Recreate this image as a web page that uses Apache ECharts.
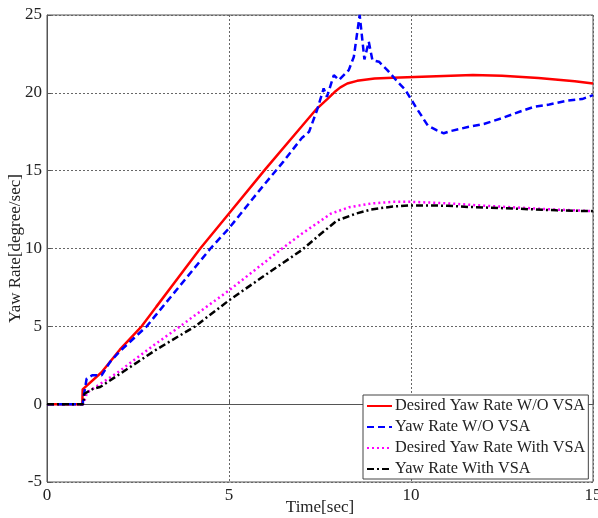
<!DOCTYPE html>
<html>
<head>
<meta charset="utf-8">
<script src="https://cdn.jsdelivr.net/npm/echarts@6/dist/echarts.min.js"></script>
<style>
  html, body { margin: 0; padding: 0; background: #fff; }
  #chart { width: 598px; height: 518px; }
</style>
</head>
<body>
<div id="chart"></div>
<script>
// 数据：时间(秒) 与 横摆角速度(度/秒)
const tRed = [0, 0.97, 0.98, 1.5, 2, 2.6, 3, 3.5, 4.21, 5, 6, 7, 7.38, 7.7, 7.9, 8.06, 8.25, 8.52, 9.0, 9.5, 10.5, 11.7, 12.5, 13.5, 14.5, 15];
const yRed = [0, 0, 0.95, 2.05, 3.5, 5.0, 6.25, 7.8, 10.0, 12.25, 15.1, 17.85, 18.9, 19.6, 20.05, 20.35, 20.6, 20.77, 20.92, 20.97, 21.05, 21.14, 21.1, 20.95, 20.75, 20.6];

const tBlue = [0, 0.98, 1.0, 1.09, 1.24, 1.5, 1.73, 2, 2.74, 3, 4, 4.49, 5, 5.86, 6.5, 7, 7.2, 7.42, 7.6, 7.69, 7.88, 8.02, 8.29, 8.43, 8.59, 8.72, 8.84, 8.94, 9.12, 9.35, 9.63, 9.85, 10.13, 10.46, 10.7, 10.9, 11.1, 11.56, 12, 12.47, 13, 13.38, 13.8, 14.3, 14.7, 15];
const yBlue = [0, 0, 0.4, 1.65, 1.85, 1.85, 2.7, 3.4, 5.0, 5.75, 8.6, 10, 11.3, 13.8, 15.6, 17.1, 17.5, 18.9, 20.28, 19.74, 21.14, 20.82, 21.46, 22.32, 25.0, 22.15, 23.28, 22.1, 22.0, 21.46, 20.71, 20.17, 19.1, 17.9, 17.6, 17.4, 17.55, 17.8, 18.0, 18.35, 18.8, 19.1, 19.25, 19.5, 19.6, 19.85];

const tMag = [0, 1.0, 1.1, 1.2, 1.92, 3, 3.66, 4, 5, 6, 6.46, 7, 7.5, 7.8, 8.3, 8.9, 9.5, 10, 11, 12, 13, 14, 15];
const yMag = [0, 0, 0.75, 0.9, 2.0, 3.9, 5.0, 5.6, 7.31, 9.15, 10.0, 10.95, 11.75, 12.24, 12.65, 12.89, 13.0, 13.0, 12.9, 12.75, 12.62, 12.5, 12.4];

const tBlack = [0, 1.0, 1.03, 1.27, 1.46, 1.73, 3, 4.07, 5, 6, 7, 7.5, 7.97, 8.5, 8.89, 9.5, 10, 11, 11.56, 13, 14, 15];
const yBlack = [0, 0, 0.67, 0.99, 1.1, 1.52, 3.5, 5.0, 6.67, 8.3, 9.9, 10.9, 11.8, 12.25, 12.5, 12.7, 12.77, 12.75, 12.67, 12.55, 12.45, 12.4];

const seriesNames = ["Desired Yaw Rate W/O VSA", "Yaw Rate W/O VSA", "Desired Yaw Rate With VSA", "Yaw Rate With VSA"];
const xTicks = [0, 5, 10, 15];
const yTicks = [-5, 0, 5, 10, 15, 20, 25];

const pairs = (ts, ys) => ts.map((t, i) => [t, ys[i]]);
const font = "Liberation Serif";

const chart = echarts.init(document.getElementById("chart"));

const axisCommon = {
  axisLine: { show: true, lineStyle: { color: "#555", width: 1 } },
  axisTick: { show: true, inside: true, length: 4, lineStyle: { color: "#555" } },
  axisLabel: { color: "#222", fontFamily: font, fontSize: 17, margin: 5 },
  splitLine: { show: true, lineStyle: { color: "#666", type: [2, 2], width: 1 } },
  nameTextStyle: { color: "#222", fontFamily: font, fontSize: 17 },
  nameMoveOverlap: false
};

const option = {
  animation: false,
  backgroundColor: "#fff",
  grid: {
    left: 47, right: 5, top: 15, bottom: 36,
    outerBoundsMode: "none", containLabel: false,
    show: true, borderColor: "#555", borderWidth: 1
  },
  xAxis: Object.assign({}, axisCommon, {
    type: "value",
    min: xTicks[0], max: xTicks[xTicks.length - 1], interval: 5,
    name: "Time[sec]", nameLocation: "middle", nameGap: 17
  }),
  yAxis: Object.assign({}, axisCommon, {
    type: "value",
    min: yTicks[0], max: yTicks[yTicks.length - 1], interval: 5,
    name: "Yaw Rate[degree/sec]", nameLocation: "middle", nameGap: 23
  }),
  legend: {
    orient: "vertical",
    left: 363, top: 395,
    itemWidth: 25, itemHeight: 16.3, itemGap: 5,
    padding: [3, 3, 2, 3],
    borderColor: "#444", borderWidth: 1,
    backgroundColor: "#fff",
    itemStyle: { opacity: 0 },
    textStyle: { fontFamily: font, fontSize: 16.3, lineHeight: 16, color: "#222", padding: [0, 0, 0, -2] },
    data: seriesNames
  },
  series: [
    {
      name: seriesNames[0], type: "line", symbol: "none", z: 3,
      data: pairs(tRed, yRed),
      lineStyle: { color: "#ff0000", width: 2.5, type: "solid" },
      itemStyle: { color: "#ff0000" }
    },
    {
      name: seriesNames[1], type: "line", symbol: "none", z: 4,
      data: pairs(tBlue, yBlue),
      lineStyle: { color: "#0000ff", width: 2.5, type: [7, 4] },
      itemStyle: { color: "#0000ff" }
    },
    {
      name: seriesNames[2], type: "line", symbol: "none", z: 3,
      data: pairs(tMag, yMag),
      lineStyle: { color: "#ff00ff", width: 2.5, type: [2, 3] },
      itemStyle: { color: "#ff00ff" }
    },
    {
      name: seriesNames[3], type: "line", symbol: "none", z: 4,
      data: pairs(tBlack, yBlack),
      lineStyle: { color: "#000000", width: 2.5, type: [7, 3, 2, 3] },
      itemStyle: { color: "#000000" }
    }
  ]
};

chart.setOption(option);
</script>
</body>
</html>
